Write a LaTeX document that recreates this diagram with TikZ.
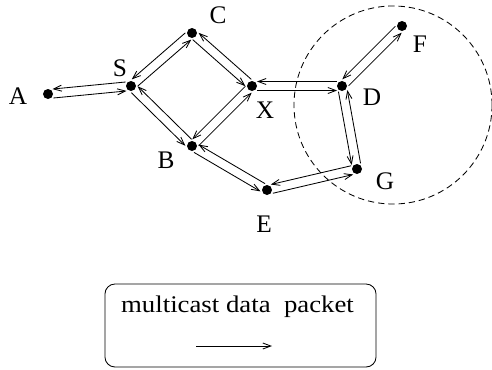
\documentclass[tikz,border=0pt]{standalone}
\usepackage{fontspec}
\setmainfont{Liberation Serif}
\usepackage{graphicx}
\usetikzlibrary{arrows.meta,calc}

\begin{document}
\begin{tikzpicture}[x=0.025cm,y=-0.025cm,
    router/.style={circle,fill=black,inner sep=0pt,minimum size=2.5mm},
    lbl/.style={inner sep=0pt,font=\labelfontsize},
    pkt/.style={line width=0.6pt,-{Straight Barb[length=2mm,width=1.5mm]},
        shorten <=\pktshorten pt,shorten >=\pktshorten pt}]
    \pgfmathsetmacro{\pktoffset}{3.2}
    \pgfmathsetmacro{\pktshorten}{3.5}
    \providecommand{\labelfontsize}{\fontsize{18pt}{21pt}\selectfont}
    \providecommand{\boxfontsize}{\fontsize{17pt}{20pt}\selectfont}
    \useasboundingbox (0,0) rectangle (492,369);
    % routers
    \node[router] (A) at (48,94) {};
    \node[router] (S) at (131,86) {};
    \node[router] (C) at (192,33) {};
    \node[router] (X) at (252,86) {};
    \node[router] (B) at (192,146) {};
    \node[router] (E) at (267,190) {};
    \node[router] (D) at (342,86) {};
    \node[router] (F) at (402,26) {};
    \node[router] (G) at (357,169) {};
    % names
    \node[lbl] (lA) at (18,96) {A};
    \node[lbl] (lS) at (120,68) {S};
    \node[lbl] (lC) at (218,15) {C};
    \node[lbl] (lX) at (265,110) {X};
    \node[lbl] (lB) at (166,160) {B};
    \node[lbl] (lE) at (264,224) {E};
    \node[lbl] (lD) at (372,97) {D};
    \node[lbl] (lF) at (420,44) {F};
    \node[lbl] (lG) at (385,181) {G};
    % group
    \node[draw,circle,line width=0.6pt,dash pattern=on 4.5pt off 2.8pt,
        minimum size=4.95cm,inner sep=0pt] (grp) at (393,105) {};
    % two packets on every link, one each way
    \foreach \u/\v in {A/S,S/C,S/B,C/X,B/X,B/E,X/D,D/F,D/G,E/G}{
        \draw[pkt] ($(\u)!\pktoffset pt!-90:(\v)$) -- ($(\v)!\pktoffset pt!90:(\u)$);
        \draw[pkt] ($(\v)!\pktoffset pt!-90:(\u)$) -- ($(\u)!\pktoffset pt!90:(\v)$);
    }
    % legend
    \node[draw,line width=0.6pt,rounded corners=2.5mm,minimum width=6.775cm,
        minimum height=2.075cm,inner sep=0pt] (legend) at (240.5,325.5) {};
    \node[inner sep=0pt,font=\boxfontsize] (legtxt) at (237.5,307)
        {\scalebox{1.12}[1]{multicast data\ \ packet}};
    \coordinate (la) at (196,346);
    \coordinate (lb) at (272,346);
    \draw[pkt,shorten <=0pt,shorten >=0pt] (la) -- (lb);
\end{tikzpicture}
\end{document}
